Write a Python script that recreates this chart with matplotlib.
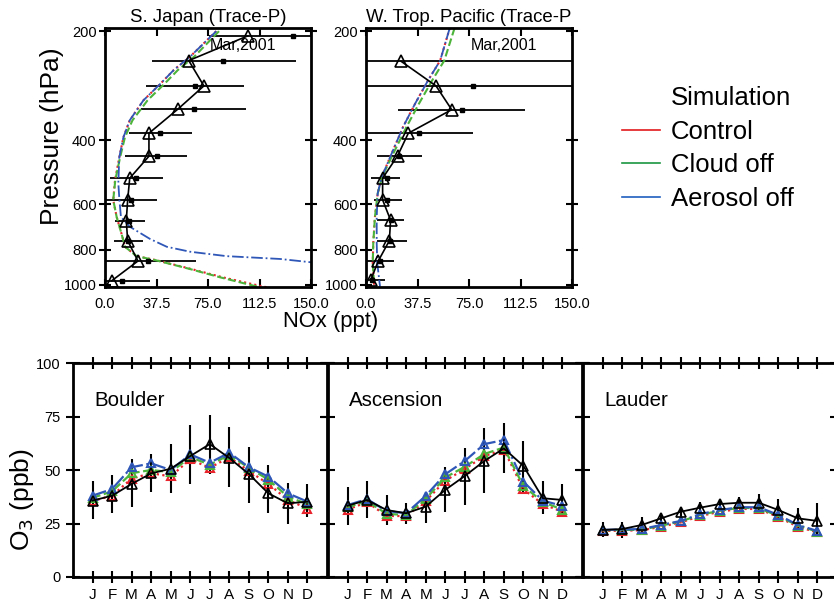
import matplotlib
matplotlib.use("Agg")
import matplotlib.pyplot as plt
from matplotlib.lines import Line2D
from matplotlib.ticker import NullLocator
import numpy as np

plt.rcParams['font.family'] = ['Liberation Sans', 'DejaVu Sans']

RED = '#e8232b'
GREEN = '#4cb43a'
BLUE = '#2f57b8'

# ---- NOx profiles (Trace-P, Mar 2001) ----
# S. Japan observations: pressure, median, mean, mean-std, mean+std
sj_p = [206, 241, 283, 328, 382, 442, 508, 583, 665, 755, 859, 973]
sj_med = [104, 61, 72, 53, 32, 32, 18, 16.5, 15.5, 16.5, 24, 5]
sj_mean = [137, 86, 65.5, 65, 40, 37.5, 22.5, 19, 17.5, 17, 31.5, 12.5]
sj_lo = [76, 34, 30, 26, 17.5, 14.5, 3.5, -1, 7, 6.5, 0.5, 1]
sj_hi = [200, 139, 101, 103, 63, 60, 42, 38, 29, 27.5, 66, 33]

# S. Japan model
sj_mod_p = [200, 235, 256, 280, 310, 352, 392, 445, 514, 583, 650, 722, 785, 833, 855, 902, 953, 1000, 1015]
sj_ctl = [81, 62, 50, 40, 28, 18, 13.4, 10.4, 7.3, 6, 8.5, 12, 14.6, 23, 37.6, 62, 86, 110, 118]
sj_cld = [83, 65, 53, 43, 31, 20, 14.5, 11, 7.5, 6, 8.5, 12, 14.6, 23, 37, 61, 84, 106, 113]
sj_aer_p = [200, 235, 256, 280, 310, 352, 392, 445, 525, 583, 650, 691, 747, 785, 810, 833, 848, 866, 900]
sj_aer = [81, 62, 50, 40, 28, 18, 13.4, 10.4, 9.7, 10.5, 11.6, 18, 32.8, 45, 62, 88.6, 127.5, 150, 200]

# W. Trop. Pacific observations
wp_p = [242, 283, 329, 382, 441, 508, 583, 663, 755, 858, 966]
wp_med = [25.5, 51, 62.4, 30.8, 23, 12.1, 12.1, 17.9, 17, 9, 3.6]
wp_mean = [np.nan, 78, 69.7, 38.5, 24, 15, 15, 18.5, 17.5, 10, 4.5]
wp_lo = [-5, -3, 23.5, -2, 8, 4, 5.5, 8, 8, -0.5, 0.5]
wp_hi = [200, 180, 116, 78, 40.5, 24.5, 26.5, 28, 29.5, 20.5, 14]

# W. Trop. Pacific model
wp_mod_p = [196, 241, 274, 317, 367, 445, 505, 560, 650, 767, 870, 1010]
wp_ctl = [61, 54, 45, 35.7, 27, 17.5, 11.4, 8.5, 6.5, 5.3, 4.9, 6]
wp_cld = [64.5, 57, 48, 38.5, 29.5, 18.5, 11.6, 8.5, 6.5, 5.3, 4.9, 6]
wp_aer = [61, 54, 45, 35.7, 27, 17.5, 11.4, 8.5, 7.8, 7.8, 8.2, 10.2]

# ---- O3 seasonal cycles ----
months = ['J', 'F', 'M', 'A', 'M', 'J', 'J', 'A', 'S', 'O', 'N', 'D']

bo_obs = [35.7, 38, 43.5, 48.4, 50.6, 56.5, 62.1, 55.6, 48.1, 39.1, 34.4, 35.2]
bo_lo = [27, 29.8, 32.6, 39.9, 39.4, 43.5, 48.1, 42.2, 34.4, 30, 24.8, 28.2]
bo_hi = [45, 47.7, 55, 57.5, 62, 71, 75.7, 70.2, 60.9, 52.3, 44, 43.5]
bo_ctl = [35.5, 38, 46, 48.5, 47, 55, 51, 56, 49.5, 43.5, 36, 32]
bo_cld = [37, 40, 48.5, 50, 49, 56, 52.5, 57, 51, 45.5, 37.5, 34]
bo_aer = [38, 41.1, 51.3, 53.1, 50, 57.3, 53.4, 58.1, 51.3, 46.9, 39.1, 35.2]

as_obs = [33.3, 36, 31.3, 29.8, 32.9, 40.7, 47.2, 54.2, 60.1, 51.9, 36.8, 36]
as_lo = [24.3, 27.4, 24.3, 24.6, 25.4, 30.5, 33.6, 39.4, 48.7, 39.9, 29.4, 28.2]
as_hi = [42.2, 45, 38.3, 34.7, 39.9, 51.6, 60.1, 69.5, 71.8, 63.6, 44.9, 43.5]
as_ctl = [31.5, 35, 28.5, 28.5, 35.5, 45, 50.5, 56.5, 59.5, 41, 34, 30.5]
as_cld = [32.5, 35.5, 29.5, 29, 36.5, 46.5, 51.5, 57.5, 60.5, 42.5, 35, 31.5]
as_aer = [33.6, 36.4, 30.8, 29.8, 37.9, 48, 54.2, 62.1, 64, 44.5, 35.7, 33.2]

la_obs = [22, 22.4, 24.3, 27.4, 30.5, 32.4, 34.1, 34.7, 34.7, 31.3, 27.4, 26.2]
la_lo = [18.5, 18.1, 21.2, 25.1, 28.2, 29.8, 31.3, 32.1, 30.5, 27.4, 22.8, 19.6]
la_hi = [25.8, 25.8, 27.9, 29.8, 32.9, 35.2, 36.3, 37.2, 38.8, 36.4, 32.1, 34.4]
la_ctl = [21.5, 21.7, 21.8, 23.5, 25.5, 28.5, 30.5, 31.8, 31.8, 28, 23.5, 20.8]
la_cld = [21.8, 22, 22.1, 24, 26, 29, 31, 32.3, 32.2, 28.5, 24, 21.2]
la_aer = [22, 22.2, 22.4, 24.3, 26.2, 29.4, 31.3, 32.6, 32.6, 29, 24.3, 21.5]

fig = plt.figure(figsize=(8.34, 6.04), dpi=100)
W, H = 834.0, 604.0


def box(x0, y0, x1, y1):
    return [x0 / W, 1 - y1 / H, (x1 - x0) / W, (y1 - y0) / H]


def profile(ax, title, p, med, mean, lo, hi, mp, ctl, cld, ap, aer):
    ax.hlines(p, lo, hi, color='black', lw=1.3)
    ax.plot(ctl, mp, color=RED, ls=(0, (1, 1.5)), lw=1.5)
    ax.plot(cld, mp, color=GREEN, ls='--', lw=1.5)
    ax.plot(aer, ap, color=BLUE, ls='-.', lw=1.3)
    ax.plot(med, p, color='black', lw=1.2, marker='^', ms=8, mfc='none', mec='black', mew=1.2)
    ax.plot(mean, p, ls='none', marker='s', ms=3.5, color='black')
    ax.set_yscale('log')
    ax.set_ylim(1013, 196)
    ax.set_xlim(0, 150)
    ax.set_yticks([200, 400, 600, 800, 1000])
    ax.set_yticklabels(['200', '400', '600', '800', '1000'])
    ax.yaxis.set_minor_locator(NullLocator())
    ax.set_xticks([0, 37.5, 75, 112.5, 150])
    ax.set_xticklabels(['0.0', '37.5', '75.0', '112.5', '150.0'])
    ax.tick_params(axis='x', direction='in', length=6, width=1.5, top=True, pad=7, labelsize=10.5)
    ax.tick_params(axis='y', direction='inout', length=8, width=1.5, right=True, pad=2, labelsize=10.5)
    for s in ax.spines.values():
        s.set_linewidth(2)
    ax.set_title(title, fontsize=13.4, pad=4)
    ax.text(0.51, 0.934, 'Mar,2001', transform=ax.transAxes, fontsize=11.5, va='center', ha='left')


ax1 = fig.add_axes(box(105, 28, 311, 287))
profile(ax1, 'S. Japan (Trace-P)', sj_p, sj_med, sj_mean, sj_lo, sj_hi,
        sj_mod_p, sj_ctl, sj_cld, sj_aer_p, sj_aer)
ax2 = fig.add_axes(box(366, 28, 572, 287))
profile(ax2, 'W. Trop. Pacific (Trace-P', wp_p, wp_med, wp_mean, wp_lo, wp_hi,
        wp_mod_p, wp_ctl, wp_cld, wp_mod_p, wp_aer)

fig.text(331 / W, 1 - 321 / H, 'NOx (ppt)', ha='center', va='center', fontsize=15.8)
fig.text(52 / W, 1 - 136 / H, 'Pressure (hPa)', ha='center', va='center', rotation=90, fontsize=19)

# legend
handles = [Line2D([], [], color='#e31a1c', lw=1.2),
           Line2D([], [], color='#1a9641', lw=1.2),
           Line2D([], [], color='#1f5fbf', lw=1.2)]
fig.legend(handles, ['Control', 'Cloud off', 'Aerosol off'], loc='upper left',
           bbox_to_anchor=(622 / W, 1 - 120 / H), frameon=False, fontsize=18.5,
           handlelength=1.48, handletextpad=0.43, borderaxespad=0, borderpad=0,
           labelspacing=0.36)
fig.text(671 / W, 1 - 98 / H, 'Simulation', ha='left', va='center', fontsize=18.5)


def seasonal(ax, name, obs, lo, hi, ctl, cld, aer, first):
    x = np.arange(1, 13)
    ax.vlines(x, lo, hi, color='black', lw=1.5)
    ax.plot(x, ctl, color=RED, ls=(0, (1, 1.5)), lw=1.6, marker='^', ms=6,
            mfc='none', mec=RED, mew=1.5)
    ax.plot(x, cld, color=GREEN, ls='--', lw=1.6, marker='^', ms=6,
            mfc='none', mec=GREEN, mew=1.5)
    ax.plot(x, aer, color=BLUE, ls='-.', lw=1.6, marker='^', ms=6,
            mfc='none', mec=BLUE, mew=1.5)
    ax.plot(x, obs, color='black', lw=1.3, marker='^', ms=7, mfc='none', mec='black', mew=1.2)
    ax.set_xlim(0, 13)
    ax.set_ylim(0, 100)
    ax.set_xticks(x)
    ax.set_xticklabels(months)
    ax.set_yticks([0, 25, 50, 75, 100])
    ax.tick_params(axis='x', direction='inout', length=8, width=1.5, top=True, pad=4, labelsize=11)
    ax.tick_params(axis='y', direction='inout', length=10, width=1.5, right=True, pad=4,
                   labelsize=10.5, labelleft=first)
    for s in ax.spines.values():
        s.set_linewidth(2)
    ax.text(0.083, 0.827, name, transform=ax.transAxes, fontsize=14.8, va='center', ha='left')


ax3 = fig.add_axes(box(73, 363, 327, 577))
seasonal(ax3, 'Boulder', bo_obs, bo_lo, bo_hi, bo_ctl, bo_cld, bo_aer, True)
ax4 = fig.add_axes(box(328, 363, 582, 577))
seasonal(ax4, 'Ascension', as_obs, as_lo, as_hi, as_ctl, as_cld, as_aer, False)
ax5 = fig.add_axes(box(583, 363, 837, 577))
seasonal(ax5, 'Lauder', la_obs, la_lo, la_hi, la_ctl, la_cld, la_aer, False)

fig.text(22 / W, 1 - 500 / H, 'O$_3$ (ppb)', ha='center', va='center', rotation=90, fontsize=19)

fig.savefig('out.png', dpi=100)
